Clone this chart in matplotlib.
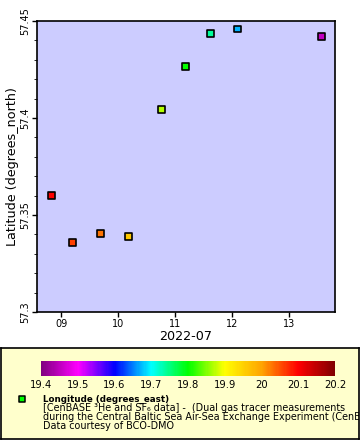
import matplotlib
matplotlib.use("Agg")
import matplotlib.pyplot as plt
import matplotlib.dates as mdates
from matplotlib.colors import LinearSegmentedColormap, Normalize
from matplotlib.ticker import MultipleLocator
import numpy as np
import pandas as pd

# sample times, latitude, longitude (colour)
times = ["2022-07-08 19:47", "2022-07-09 04:39", "2022-07-09 16:29",
         "2022-07-10 04:19", "2022-07-10 18:14", "2022-07-11 04:24",
         "2022-07-11 14:57", "2022-07-12 02:23", "2022-07-13 13:51"]
latitude = [57.3599, 57.3357, 57.3404, 57.3388, 57.4043, 57.4264,
            57.4435, 57.4459, 57.4419]
longitude = [20.10, 20.06, 20.03, 19.96, 19.87, 19.80, 19.74, 19.67, 19.45]
cbar_ticks = [19.4, 19.5, 19.6, 19.7, 19.8, 19.9, 20.0, 20.1, 20.2]
cbar_labels = ["19.4", "19.5", "19.6", "19.7", "19.8", "19.9", "20", "20.1", "20.2"]

rainbow = LinearSegmentedColormap.from_list("rainbow2", [
    "#800080", "#ff00ff", "#0000ff", "#00ffff", "#00ff00",
    "#ffff00", "#ffa500", "#ff0000", "#800000"])
norm = Normalize(19.4, 20.2)

W, H = 360, 440
fig = plt.figure(figsize=(3.6, 4.4), dpi=100)

ax = fig.add_axes([37 / W, 1 - 312 / H, 298 / W, 291 / H])
ax.set_facecolor("#ccccff")
t = pd.to_datetime(times)
ax.scatter(t, latitude, c=longitude, cmap=rainbow, norm=norm, marker="s",
           s=24, edgecolors="black", linewidths=1.2, zorder=3)
ax.set_xlim(pd.Timestamp("2022-07-08 13:40"), pd.Timestamp("2022-07-13 19:25"))
ax.set_ylim(57.3, 57.45)
ax.xaxis.set_major_locator(mdates.DayLocator())
ax.xaxis.set_major_formatter(mdates.DateFormatter("%d"))
ax.yaxis.set_major_locator(MultipleLocator(0.05))
ax.yaxis.set_minor_locator(MultipleLocator(0.01))
ax.yaxis.set_major_formatter(matplotlib.ticker.FuncFormatter(lambda v, p: f"{v:g}"))
ax.tick_params(labelsize=7, length=3.5, width=1, pad=1.5)
ax.tick_params(axis="y", which="minor", length=2.5)
for lab in ax.get_yticklabels():
    lab.set_rotation(90)
    lab.set_va("center")
for sp in ax.spines.values():
    sp.set_linewidth(1.2)
ax.set_xlabel("2022-07", fontsize=9.2, labelpad=1)
ax.set_ylabel("Latitude (degrees_north)", fontsize=9.2, labelpad=1)

# legend panel
leg = fig.add_axes([0.5 / W, 1 / H, 358.5 / W, 91 / H])
leg.set_facecolor("#ffffcc")
leg.set_xlim(0, W)
leg.set_ylim(H, 348)
leg.set_xticks([])
leg.set_yticks([])
for sp in leg.spines.values():
    sp.set_linewidth(1.2)
leg.scatter([22], [400], marker="s", s=18, c="#00ff00", edgecolors="black",
            linewidths=1.1, clip_on=False)
leg.text(43, 400, "Longitude (degrees_east)", fontsize=6.3, weight="bold",
         va="center", clip_on=True)
lines = ["[CenBASE \u00b3He and SF\u2086 data] -  (Dual gas tracer measurements",
         "during the Central Baltic Sea Air-Sea Exchange Experiment (CenBASE))",
         "Data courtesy of BCO-DMO"]
for i, s in enumerate(lines):
    leg.text(43, 409 + 9 * i, s, fontsize=6.95, va="center", clip_on=True)

cax = fig.add_axes([41 / W, 1 - 376 / H, 294 / W, 15 / H])
sm = matplotlib.cm.ScalarMappable(norm=norm, cmap=rainbow)
cb = fig.colorbar(sm, cax=cax, orientation="horizontal")
cb.outline.set_visible(False)
cb.set_ticks(cbar_ticks)
cb.set_ticklabels(cbar_labels)
cax.tick_params(labelsize=7.2, length=0, pad=3)

fig.savefig("out.png", dpi=100)
